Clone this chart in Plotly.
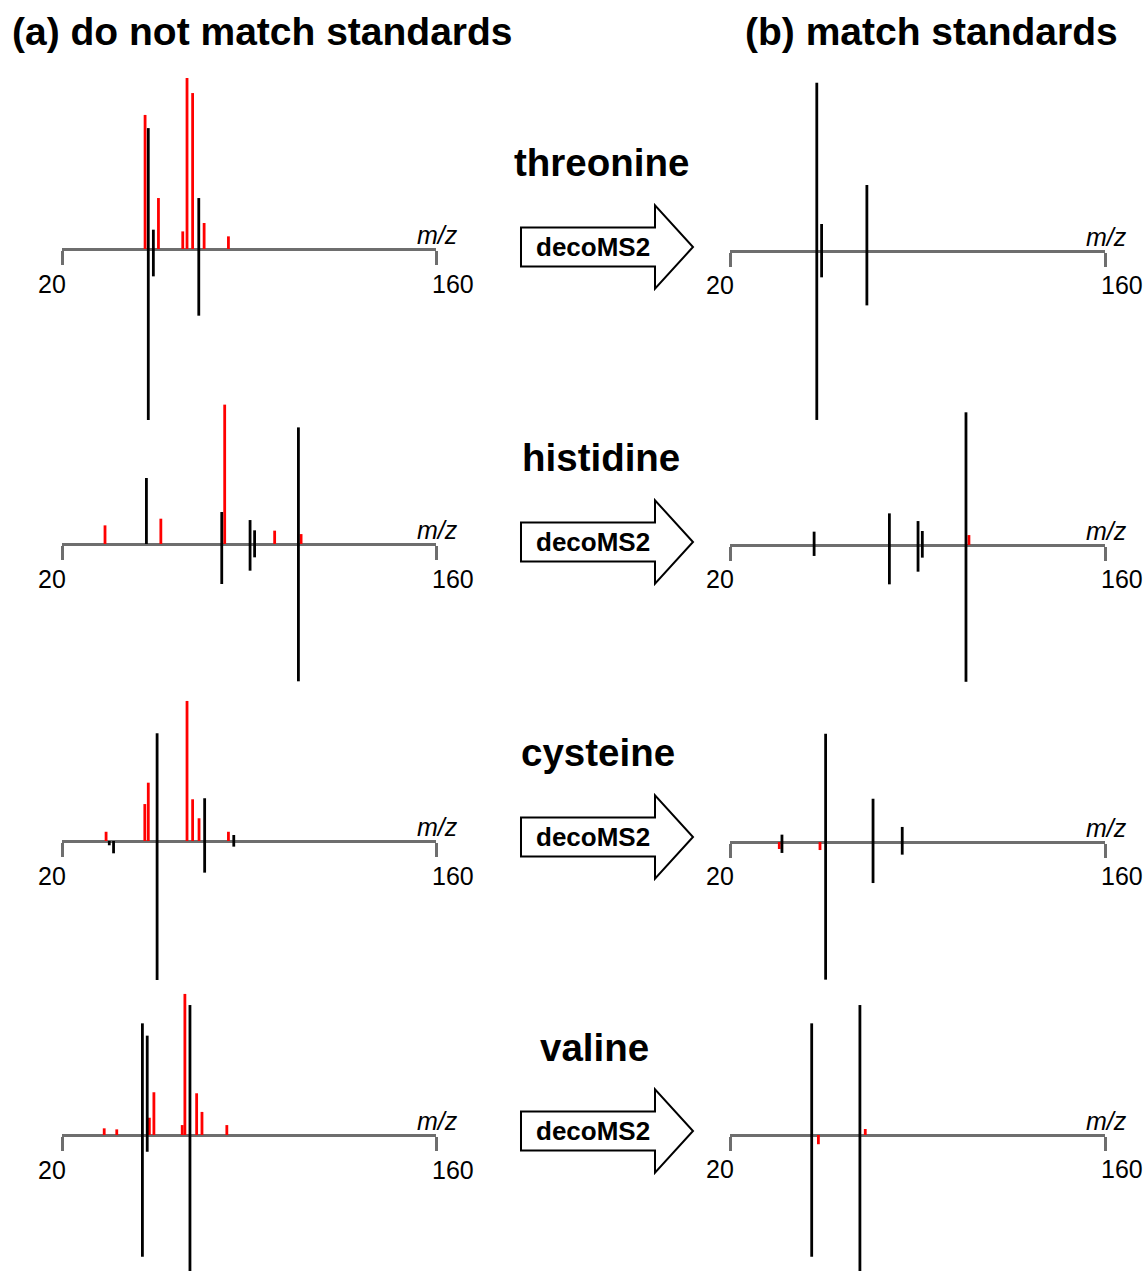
import plotly.graph_objects as go

# ---------------- data (m/z, signed relative intensity; + = spectrum, - = standard) -------------
MZ_MIN, MZ_MAX = 20, 160
TICK_LABELS = ["20", "160"]
COMPOUNDS = ["threonine", "histidine", "cysteine", "valine"]
COLUMN_TITLES = ["(a) do not match standards", "(b) match standards"]
ARROW_LABEL = "decoMS2"

# threonine
thr_a_red_mz = [51.1, 56.1, 65.2, 66.8, 68.9, 73.2, 82.3]
thr_a_red_int = [78.4, 29.8, 10.3, 100.0, 91.2, 15.2, 7.4]
thr_a_black_mz = [52.3, 54.2, 71.2, 52.3, 54.2, 71.2]
thr_a_black_int = [70.7, 11.3, 29.8, -100.0, -16.0, -39.0]
thr_b_red_mz = []
thr_b_red_int = []
thr_b_black_mz = [52.4, 54.2, 71.1, 52.4, 54.2, 71.1]
thr_b_black_int = [98.4, 15.8, 38.6, -98.8, -15.4, -31.8]

# histidine
his_a_red_mz = [36.1, 57.0, 80.9, 99.6, 109.5]
his_a_red_int = [10.9, 14.8, 81.5, 7.8, 5.8]
his_a_black_mz = [51.6, 79.8, 90.4, 92.1, 108.5, 79.8, 90.4, 92.1, 108.5]
his_a_black_int = [38.6, 18.7, 14.0, 8.0, 68.2, -23.4, -15.6, -7.8, -80.3]
his_b_red_mz = [109.2]
his_b_red_int = [5.8]
his_b_black_mz = [51.4, 79.5, 90.2, 91.8, 108.1, 51.4, 79.5, 90.2, 91.8, 108.1]
his_b_black_int = [7.8, 18.5, 14.0, 8.2, 77.6, -6.4, -23.0, -15.6, -7.4, -80.0]

# cysteine
cys_a_red_mz = [36.5, 51.0, 52.3, 66.8, 68.9, 71.3, 82.3]
cys_a_red_int = [5.4, 21.6, 34.1, 81.9, 24.4, 13.3, 5.4]
cys_a_black_mz = [55.6, 73.4, 84.3, 37.7, 39.3, 55.6, 73.4, 84.3]
cys_a_black_int = [63.0, 25.0, 3.5, -2.5, -7.2, -81.3, -18.5, -3.3]
cys_b_red_mz = [38.4, 53.6]
cys_b_red_int = [-4.1, -4.7]
cys_b_black_mz = [39.4, 55.7, 73.4, 84.3, 39.4, 55.7, 73.4, 84.3]
cys_b_black_int = [4.3, 63.3, 25.3, 8.8, -6.4, -80.5, -24.0, -7.4]

# valine
val_a_red_mz = [35.8, 40.5, 52.7, 54.4, 65.0, 66.0, 70.4, 72.4, 81.7]
val_a_red_int = [3.9, 3.3, 10.1, 25.0, 5.8, 82.5, 24.4, 13.5, 5.8]
val_a_black_mz = [50.1, 51.9, 67.9, 50.1, 51.9, 67.9]
val_a_black_int = [65.3, 58.1, 76.0, -71.2, -9.8, -92.0]
val_b_red_mz = [53.0, 70.5]
val_b_red_int = [-5.4, 3.5]
val_b_black_mz = [50.5, 68.5, 50.5, 68.5]
val_b_black_int = [65.3, 76.0, -71.2, -92.0]

PANELS = [
    (0, 0, thr_a_red_mz, thr_a_red_int, thr_a_black_mz, thr_a_black_int),
    (0, 1, thr_b_red_mz, thr_b_red_int, thr_b_black_mz, thr_b_black_int),
    (1, 0, his_a_red_mz, his_a_red_int, his_a_black_mz, his_a_black_int),
    (1, 1, his_b_red_mz, his_b_red_int, his_b_black_mz, his_b_black_int),
    (2, 0, cys_a_red_mz, cys_a_red_int, cys_a_black_mz, cys_a_black_int),
    (2, 1, cys_b_red_mz, cys_b_red_int, cys_b_black_mz, cys_b_black_int),
    (3, 0, val_a_red_mz, val_a_red_int, val_a_black_mz, val_a_black_int),
    (3, 1, val_b_red_mz, val_b_red_int, val_b_black_mz, val_b_black_int),
]

# ---------------- layout geometry (pixels) ----------------
W, H = 1145, 1271
FONT = "Liberation Sans, Arial, Helvetica, sans-serif"
AXIS_GRAY = "#6e6e6e"
PX_PER_UNIT = 1.71           # 100 % intensity = 171 px
COL_X = [(62, 436), (730, 1105)]
ROW_Y = [[249, 544, 841, 1135], [251, 545, 842, 1135]]
LABEL_DY = [-35, -34]
NAME_POS = [(601, 163), (601, 457), (598, 752), (594, 1047)]
ARROW_CY = [247, 542, 837, 1131]
ARROW_X = (521, 655, 693)
ARROW_TEXT_X = 593
TITLE_POS = [(262, 32), (931, 32)]


def px(x):
    return x / W


def py(y):
    return 1 - y / H


def stems(mz, val):
    xs, ys = [], []
    for m, v in zip(mz, val):
        xs += [m, m, None]
        ys += [0, v, None]
    return xs, ys


fig = go.Figure()
annotations = []
shapes = []
layout_axes = {}

for i, (row, col, rmz, rint, kmz, kint) in enumerate(PANELS, start=1):
    sfx = "" if i == 1 else str(i)
    xa, ya = "x" + sfx, "y" + sfx
    x0, x1 = COL_X[col]
    ay = ROW_Y[col][row]
    top_px = ay - 100 * PX_PER_UNIT
    bot_px = min(ay + 100 * PX_PER_UNIT, H)
    ymin = -(bot_px - ay) / PX_PER_UNIT
    layout_axes["xaxis" + sfx] = dict(
        domain=[px(x0), px(x1)], range=[MZ_MIN, MZ_MAX], anchor="free",
        position=py(ay), showline=True, linecolor=AXIS_GRAY, linewidth=2.6,
        ticks="outside", tickvals=[MZ_MIN, MZ_MAX], ticklen=14, tickwidth=2.6,
        tickcolor=AXIS_GRAY, showticklabels=False, showgrid=False,
        zeroline=False, layer="below traces", fixedrange=True)
    layout_axes["yaxis" + sfx] = dict(
        domain=[py(bot_px), py(top_px)], range=[ymin, 100], anchor=xa,
        visible=False, fixedrange=True)

    xs, ys = stems(rmz, rint)
    fig.add_trace(go.Scatter(x=xs, y=ys, mode="lines", xaxis=xa, yaxis=ya,
                             line=dict(color="#ff0000", width=2.8),
                             hoverinfo="skip", showlegend=False))
    xs, ys = stems(kmz, kint)
    fig.add_trace(go.Scatter(x=xs, y=ys, mode="lines", xaxis=xa, yaxis=ya,
                             line=dict(color="#000000", width=2.8),
                             hoverinfo="skip", showlegend=False))

    tick_font = dict(family=FONT, size=25, color="#000000")
    annotations.append(dict(x=MZ_MIN, y=0, xref=xa, yref=ya, text=TICK_LABELS[0],
                            showarrow=False, xanchor="right", yanchor="middle",
                            xshift=6, yshift=LABEL_DY[col], font=tick_font))
    annotations.append(dict(x=MZ_MAX, y=0, xref=xa, yref=ya, text=TICK_LABELS[1],
                            showarrow=False, xanchor="left", yanchor="middle",
                            xshift=-6, yshift=LABEL_DY[col], font=tick_font))
    annotations.append(dict(x=MZ_MAX, y=0, xref=xa, yref=ya, text="<i>m/z</i>",
                            showarrow=False, xanchor="center", yanchor="middle",
                            xshift=1, yshift=14, font=tick_font))

# column titles
for (tx, ty), t in zip(TITLE_POS, COLUMN_TITLES):
    annotations.append(dict(x=px(tx), y=py(ty), xref="paper", yref="paper",
                            text="<b>" + t + "</b>", showarrow=False,
                            xanchor="center", yanchor="middle",
                            font=dict(family=FONT, size=39, color="#000000")))

# compound names + arrows
for (nx, ny), name, cy in zip(NAME_POS, COMPOUNDS, ARROW_CY):
    annotations.append(dict(x=px(nx), y=py(ny), xref="paper", yref="paper",
                            text="<b>" + name + "</b>", showarrow=False,
                            xanchor="center", yanchor="middle",
                            font=dict(family=FONT, size=38.5, color="#000000")))
    xl, xh, xt = ARROW_X
    pts = [(xl, cy - 19.5), (xh, cy - 19.5), (xh, cy - 41.7), (xt, cy),
           (xh, cy + 41.7), (xh, cy + 19.5), (xl, cy + 19.5)]
    path = "M " + " L ".join(f"{px(a):.5f},{py(b):.5f}" for a, b in pts) + " Z"
    shapes.append(dict(type="path", path=path, xref="paper", yref="paper",
                       line=dict(color="#000000", width=2),
                       fillcolor="#ffffff", layer="above"))
    annotations.append(dict(x=px(ARROW_TEXT_X), y=py(cy), xref="paper", yref="paper",
                            text="<b>" + ARROW_LABEL + "</b>", showarrow=False,
                            xanchor="center", yanchor="middle",
                            font=dict(family=FONT, size=26, color="#000000")))

fig.update_layout(
    width=W, height=H, autosize=False,
    margin=dict(l=0, r=0, t=0, b=0, pad=0),
    paper_bgcolor="#ffffff", plot_bgcolor="rgba(0,0,0,0)",
    font=dict(family=FONT, color="#000000"),
    annotations=annotations, shapes=shapes, showlegend=False,
    **layout_axes)

fig.write_html("out.html", config={"displayModeBar": False},
               post_script="document.body.style.margin='0';")
